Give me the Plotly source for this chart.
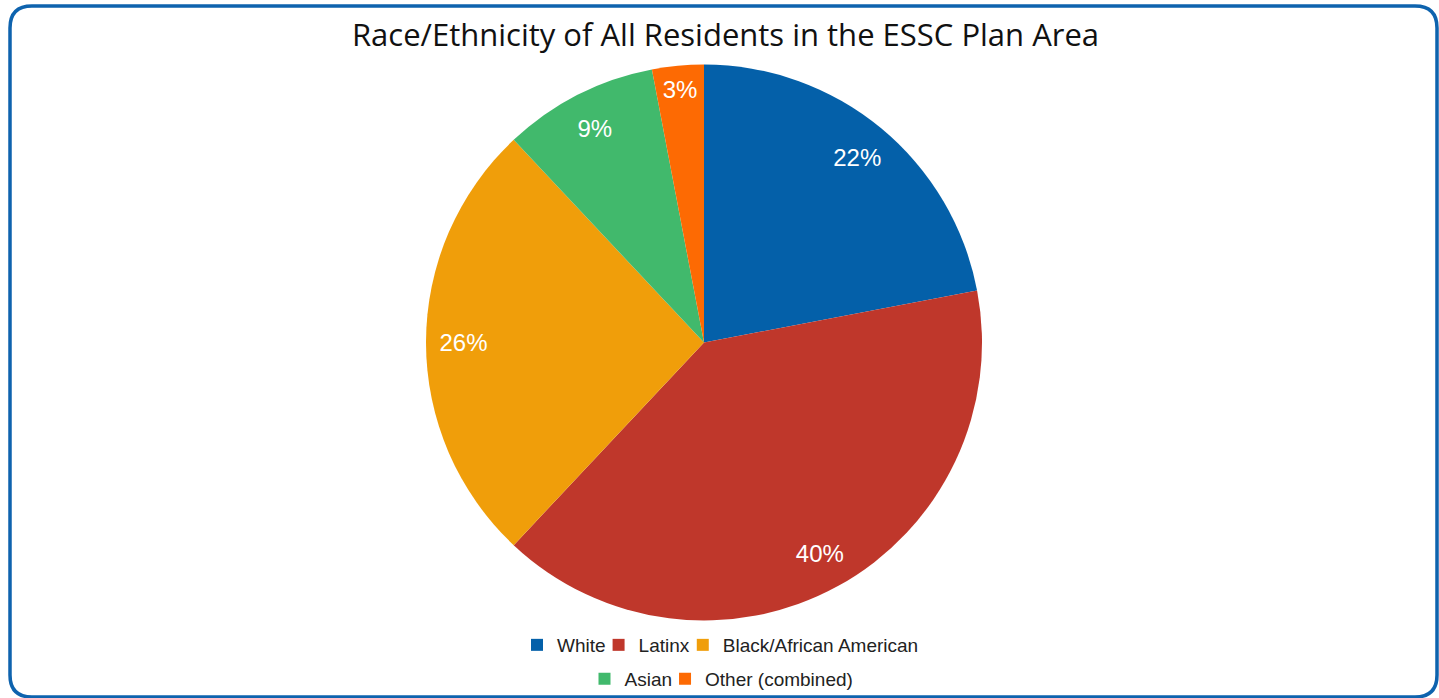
import plotly.graph_objects as go

# Share of residents by race/ethnicity (percent)
groups = ["White", "Latinx", "Black/African American", "Asian", "Other (combined)"]
shares = [22, 40, 26, 9, 3]
colors = ["#0460a9", "#bf372b", "#f09e0a", "#41b96c", "#fd6a03"]
chart_title = "Race/Ethnicity of All Residents in the ESSC Plan Area"
first_row = 3  # legend entries on the first legend line

W, H = 1439, 698


def px(x):
    return x / W


def py(y):
    return 1 - y / H


def rounded_rect(x0, y0, x1, y1, rad):
    pts = [
        ("M", [(x0 + rad, y0)]),
        ("L", [(x1 - rad, y0)]),
        ("Q", [(x1, y0), (x1, y0 + rad)]),
        ("L", [(x1, y1 - rad)]),
        ("Q", [(x1, y1), (x1 - rad, y1)]),
        ("L", [(x0 + rad, y1)]),
        ("Q", [(x0, y1), (x0, y1 - rad)]),
        ("L", [(x0, y0 + rad)]),
        ("Q", [(x0, y0), (x0 + rad, y0)]),
    ]
    out = []
    for cmd, coords in pts:
        out.append(cmd + " " + " ".join(f"{px(a):.5f},{py(b):.5f}" for a, b in coords))
    return " ".join(out) + " Z"


cx, cy, r = 704, 342.5, 278
pie_domain = dict(x=[px(cx - r), px(cx + r)], y=[py(cy + r), py(cy - r)])
tiny_domain = dict(x=[px(cx - 1), px(cx)], y=[py(cy), py(cy - 1)])

label_font = dict(family="Liberation Sans, Arial, sans-serif", size=24, color="white")
legend_font = dict(family="Liberation Sans, Arial, sans-serif", size=19, color="#222222")

fig = go.Figure()

# Legend carriers, one per legend line, hidden beneath the main pie
fig.add_trace(go.Pie(
    labels=groups[:first_row], values=shares[:first_row],
    marker=dict(colors=colors[:first_row]), sort=False, domain=tiny_domain,
    textinfo="none", hoverinfo="skip", legend="legend",
))
fig.add_trace(go.Pie(
    labels=groups[first_row:], values=shares[first_row:],
    marker=dict(colors=colors[first_row:]), sort=False, domain=tiny_domain,
    textinfo="none", hoverinfo="skip", legend="legend2",
))

# Main pie
fig.add_trace(go.Pie(
    labels=groups, values=shares,
    marker=dict(colors=colors, line=dict(width=0)),
    sort=False, direction="clockwise", rotation=0, domain=pie_domain,
    textinfo="none", showlegend=False,
    hovertemplate="%{label}: %{value}%<extra></extra>",
))

# Percentage labels set on a transparent outer ring
fig.add_trace(go.Pie(
    labels=groups, values=shares, hole=0.73,
    marker=dict(colors=["rgba(0,0,0,0)"] * len(groups), line=dict(width=0)),
    sort=False, direction="clockwise", rotation=0, domain=pie_domain,
    texttemplate="%{value}%", textposition="inside",
    insidetextorientation="horizontal", insidetextfont=label_font,
    showlegend=False, hoverinfo="skip",
))

fig.update_layout(
    width=W, height=H, autosize=False,
    margin=dict(l=0, r=0, t=0, b=0),
    paper_bgcolor="white", plot_bgcolor="white",
    title=dict(
        text=chart_title, x=px(725.5), xanchor="center", xref="paper",
        y=py(35), yanchor="middle", yref="container",
        font=dict(family="Open Sans, sans-serif", size=31, color="#111111"),
    ),
    legend=dict(
        orientation="h", x=px(726.5), xanchor="center", y=py(645), yanchor="middle",
        font=legend_font, bgcolor="rgba(0,0,0,0)", indentation=-12,
    ),
    legend2=dict(
        orientation="h", x=px(727.5), xanchor="center", y=py(679), yanchor="middle",
        font=legend_font, bgcolor="rgba(0,0,0,0)", indentation=-12,
    ),
    shapes=[dict(
        type="path", xref="paper", yref="paper",
        path=rounded_rect(10, 6, 1437, 697, 22),
        line=dict(color="#0e63ae", width=3.5),
    )],
)

fig.write_html("out.html")
